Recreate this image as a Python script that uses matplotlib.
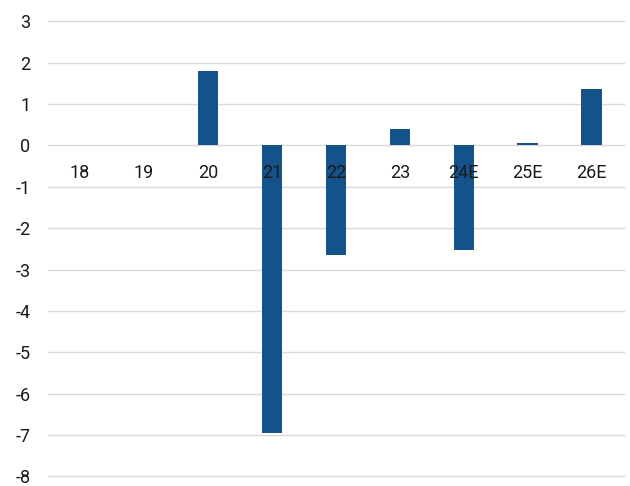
import matplotlib.pyplot as plt

years = ['18', '19', '20', '21', '22', '23', '24E', '25E', '26E']
values = [0, 0, 1.8, -6.95, -2.66, 0.4, -2.54, 0.05, 1.36]

plt.rcParams['font.family'] = ['Roboto', 'DejaVu Sans']
plt.rcParams['axes.unicode_minus'] = False

fig = plt.figure(figsize=(6.3, 4.86), dpi=100)
ax = fig.add_axes([0.076, 0.02, 0.914, 0.936])

ax.bar(years, values, width=0.32, color='#15528a', zorder=2)

ax.set_ylim(-8, 3)
ax.set_xlim(-0.5, len(years) - 0.5)
ax.set_yticks(range(-8, 4))
ax.yaxis.grid(True, color='#d9d9d9', linewidth=1, clip_on=False)
ax.set_axisbelow(True)
ax.xaxis.set_zorder(5)

for s in ax.spines.values():
    s.set_visible(False)
ax.spines['bottom'].set_position(('data', 0))

ax.tick_params(axis='x', length=0, pad=13, labelsize=13, labelcolor='#1a1a1a')
ax.tick_params(axis='y', length=0, pad=12.5, labelsize=13, labelcolor='#1a1a1a')

fig.savefig('out.png', dpi=100)
